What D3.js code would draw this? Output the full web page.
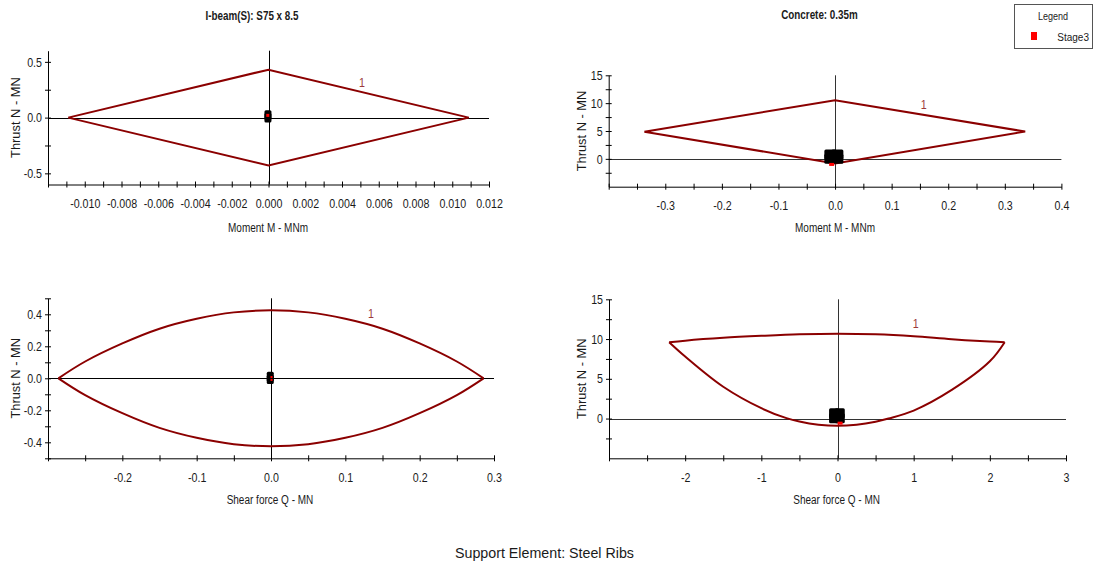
<!DOCTYPE html>
<html>
<head>
<meta charset="utf-8">
<script src="https://cdn.jsdelivr.net/npm/d3@7/dist/d3.min.js"></script>
<style>
  html, body { margin: 0; padding: 0; background: #fff; }
  svg { display: block; }
  text { font-family: "Liberation Sans", Arial, sans-serif; fill: #1a1a1a; }
</style>
</head>
<body>
<svg id="chart" width="1094" height="565"></svg>
<script>
// ---------------- DATA ----------------
// Panel 1: I-beam, Moment (MNm) vs Thrust (MN)
const steelMomentEnvelope = [[-0.0109, 0], [0, 0.43], [0.0109, 0], [0, -0.43], [-0.0109, 0]];
const steelMomentStage3 = [[-0.00003, 0.034], [-0.00003, 0.01], [-0.00003, -0.013]];
const steelMomentStage3Red = [[-0.00004, 0.02]];
const p1XTicks = [-0.012,-0.011,-0.010,-0.009,-0.008,-0.007,-0.006,-0.005,-0.004,-0.003,-0.002,-0.001,0,0.001,0.002,0.003,0.004,0.005,0.006,0.007,0.008,0.009,0.010,0.011,0.012];
const p1XLabels = [-0.010,-0.008,-0.006,-0.004,-0.002,0,0.002,0.004,0.006,0.008,0.010,0.012];
const p1YTicks = [-0.5,-0.25,0,0.25,0.5];
const p1YLabels = [-0.5,0,0.5];

// Panel 2: Concrete, Moment vs Thrust
const concMomentEnvelope = [[-0.337, 4.88], [0, 10.5], [0.336, 4.9], [0, -0.83], [-0.337, 4.88]];
const concMomentStage3 = [[-0.0083, 0.76], [0.0041, 0.76], [-0.0083, 0.04], [0.0041, 0.04], [-0.002, 0.4]];
const concMomentStage3Red = [[-0.006, -1.0]];
const p2XTicks = [-0.4,-0.35,-0.3,-0.25,-0.2,-0.15,-0.1,-0.05,0,0.05,0.1,0.15,0.2,0.25,0.3,0.35,0.4];
const p2XLabels = [-0.3,-0.2,-0.1,0,0.1,0.2,0.3,0.4];
const p2YTicks = [-2.5,0,2.5,5,7.5,10,12.5,15];
const p2YLabels = [0,5,10,15];

// Panel 3: I-beam, Shear vs Thrust
const steelShearTop = [[-0.286,0],[-0.25,0.105],[-0.2,0.218],[-0.15,0.31],[-0.1,0.372],[-0.05,0.412],[0,0.425],[0.05,0.412],[0.1,0.372],[0.15,0.31],[0.2,0.218],[0.25,0.105],[0.286,0]];
const steelShearBottom = [[-0.286,0],[-0.25,-0.105],[-0.2,-0.218],[-0.15,-0.31],[-0.1,-0.372],[-0.05,-0.412],[0,-0.425],[0.05,-0.412],[0.1,-0.372],[0.15,-0.31],[0.2,-0.218],[0.25,-0.105],[0.286,0]];
const steelShearStage3 = [[-0.001,0.019],[-0.001,0.0],[-0.001,-0.014]];
const steelShearStage3Red = [[0.0007,0.008],[0.0007,-0.01]];
const p3XTicks = [-0.3,-0.25,-0.2,-0.15,-0.1,-0.05,0,0.05,0.1,0.15,0.2,0.25,0.3];
const p3XLabels = [-0.2,-0.1,0,0.1,0.2,0.3];
const p3YTicks = [-0.5,-0.4,-0.3,-0.2,-0.1,0,0.1,0.2,0.3,0.4,0.5];
const p3YLabels = [-0.4,-0.2,0,0.2,0.4];

// Panel 4: Concrete, Shear vs Thrust
const concShearTop = [[-2.21,9.6],[-2,9.8],[-1.5,10.15],[-1,10.4],[-0.5,10.6],[0,10.68],[0.5,10.6],[1,10.35],[1.5,9.97],[2,9.68],[2.195,9.6]];
const concShearBottom = [[-2.21,9.6],[-2,7.8],[-1.5,4.0],[-1,1.3],[-0.67,0.05],[-0.5,-0.38],[-0.25,-0.78],[0,-0.92],[0.25,-0.78],[0.5,-0.4],[0.67,0],[1,1.0],[1.5,3.6],[2,7.2],[2.195,9.6]];
const concShearStage3 = [[-0.045,0.68],[0.03,0.68],[-0.045,0.05],[0.03,0.05]];
const concShearStage3Red = [[0.034,-0.58]];
const p4XTicks = [-3,-2.5,-2,-1.5,-1,-0.5,0,0.5,1,1.5,2,2.5,3];
const p4XLabels = [-2,-1,0,1,2,3];
const p4YTicks = [-2.5,0,2.5,5,7.5,10,12.5,15];
const p4YLabels = [0,5,10,15];

const titles = ["I-beam(S): S75 x 8.5", "Concrete: 0.35m"];
const xTitles = ["Moment M - MNm", "Shear force Q - MN"];
const yTitle = "Thrust N - MN";
const curveLabel = "1";
const legendTitle = "Legend";
const legendSeries = ["Stage3"];
const footer = "Support Element: Steel Ribs";

// ---------------- RENDER ----------------
const svg = d3.select("#chart");
const loc = d3.formatLocale({decimal: ".", thousands: ",", grouping: [3], currency: ["", ""], minus: "-"});
const ENV = "#8b0000";
const LBL = "#9c3a3a";

const panels = [
  { x0: 48, x1: 489, yTop: 50.7, yBot: 184.5, xDom: [-0.012, 0.012], yDom: [-0.6, 0.6],
    xTicks: p1XTicks, xLabels: p1XLabels, yTicks: p1YTicks, yLabels: p1YLabels,
    xFmt: loc.format(".3f"), yFmt: loc.format(".1f"), zc: "#000",
    paths: [steelMomentEnvelope], curve: d3.curveLinear,
    black: steelMomentStage3, red: steelMomentStage3Red, bs: [7, 7], rs: [3, 3],
    title: titles[0], titlePos: [252, 16], xTitle: xTitles[0], xTitlePos: [268, 228], yTitleX: 15.5,
    lblPos: [362, 82] },
  { x0: 608.7, x1: 1061.4, yTop: 75.3, yBot: 186.7, xDom: [-0.4, 0.4], yDom: [-5, 15],
    xTicks: p2XTicks, xLabels: p2XLabels, yTicks: p2YTicks, yLabels: p2YLabels,
    xFmt: loc.format(".1f"), yFmt: loc.format("d"), zc: "#333",
    paths: [concMomentEnvelope], curve: d3.curveLinear,
    black: concMomentStage3, red: concMomentStage3Red, bs: [12, 10], rs: [5, 3],
    title: titles[1], titlePos: [819.5, 15], xTitle: xTitles[0], xTitlePos: [835, 228], yTitleX: 582,
    lblPos: [923.8, 104] },
  { x0: 48, x1: 494, yTop: 298.3, yBot: 458.3, xDom: [-0.3, 0.3], yDom: [-0.5, 0.5],
    xTicks: p3XTicks, xLabels: p3XLabels, yTicks: p3YTicks, yLabels: p3YLabels,
    xFmt: loc.format(".1f"), yFmt: loc.format(".1f"), zc: "#000",
    paths: [steelShearTop, steelShearBottom], curve: d3.curveCatmullRom,
    black: steelShearStage3, red: steelShearStage3Red, bs: [7, 7], rs: [2, 2],
    title: null, xTitle: xTitles[1], xTitlePos: [270, 500], yTitleX: 15.5,
    lblPos: [371, 313.3] },
  { x0: 609, x1: 1066, yTop: 299.3, yBot: 458.3, xDom: [-3, 3], yDom: [-5, 15],
    xTicks: p4XTicks, xLabels: p4XLabels, yTicks: p4YTicks, yLabels: p4YLabels,
    xFmt: loc.format("d"), yFmt: loc.format("d"), zc: "#333",
    paths: [concShearTop, concShearBottom], curve: d3.curveCatmullRom,
    black: concShearStage3, red: concShearStage3Red, bs: [10, 10], rs: [5, 3],
    title: null, xTitle: xTitles[1], xTitlePos: [836.6, 500], yTitleX: 582,
    lblPos: [915.7, 323.3] }
];

function has(arr, v) { return arr.some(a => Math.abs(a - v) < 1e-9); }

panels.forEach(p => {
  const x = d3.scaleLinear().domain(p.xDom).range([p.x0, p.x1]);
  const y = d3.scaleLinear().domain(p.yDom).range([p.yBot, p.yTop]);
  const g = svg.append("g");

  // zero lines
  g.append("line").attr("x1", p.x0).attr("x2", p.x1).attr("y1", Math.round(y(0)) + 0.5).attr("y2", Math.round(y(0)) + 0.5)
    .attr("stroke", p.zc).attr("stroke-width", 1);
  g.append("line").attr("x1", Math.round(x(0)) + 0.5).attr("x2", Math.round(x(0)) + 0.5).attr("y1", p.yTop).attr("y2", p.yBot)
    .attr("stroke", p.zc).attr("stroke-width", 1);

  // envelope
  const line = d3.line().x(d => x(d[0])).y(d => y(d[1])).curve(p.curve);
  p.paths.forEach(pts => {
    g.append("path").attr("d", line(pts)).attr("fill", "none")
      .attr("stroke", ENV).attr("stroke-width", 2).attr("stroke-linejoin", "miter");
  });

  // stage3 points
  g.selectAll(null).data(p.black).enter().append("rect")
    .attr("x", d => x(d[0]) - p.bs[0] / 2).attr("y", d => y(d[1]) - p.bs[1] / 2)
    .attr("width", p.bs[0]).attr("height", p.bs[1]).attr("rx", 1.5).attr("fill", "#000");
  g.selectAll(null).data(p.red).enter().append("rect")
    .attr("x", d => x(d[0]) - p.rs[0] / 2).attr("y", d => y(d[1]) - p.rs[1] / 2)
    .attr("width", p.rs[0]).attr("height", p.rs[1]).attr("fill", "#ff0000");

  // axes
  const xAxis = d3.axisBottom(x).tickValues(p.xTicks)
    .tickFormat(d => has(p.xLabels, d) ? p.xFmt(d) : "")
    .tickSize(3).tickPadding(11).tickSizeOuter(0);
  const gx = svg.append("g").attr("transform", `translate(0,${p.yBot})`).call(xAxis);
  gx.selectAll(".tick line").attr("y1", -3).attr("y2", 3);
  const yAxis = d3.axisLeft(y).tickValues(p.yTicks)
    .tickFormat(d => has(p.yLabels, d) ? p.yFmt(d) : "")
    .tickSize(3).tickPadding(3).tickSizeOuter(0);
  const gy = svg.append("g").attr("transform", `translate(${p.x0},0)`).call(yAxis);
  gy.selectAll(".tick line").attr("x1", -3).attr("x2", 3);
  [gx, gy].forEach(a => {
    a.attr("font-family", null).attr("font-size", 13);
    a.select(".domain").attr("stroke", "#000");
    a.selectAll(".tick line").attr("stroke", "#000");
    a.selectAll(".tick text").attr("fill", "#1a1a1a").attr("data-sq", 0.82);
  });

  // titles
  if (p.title) {
    svg.append("text").attr("x", p.titlePos[0]).attr("y", p.titlePos[1]).attr("dy", "0.35em")
      .attr("text-anchor", "middle").attr("font-size", 12).attr("font-weight", "bold")
      .attr("data-sq", 0.82).text(p.title);
  }
  svg.append("text").attr("x", p.xTitlePos[0]).attr("y", p.xTitlePos[1]).attr("dy", "0.35em")
    .attr("text-anchor", "middle").attr("font-size", 12.5).attr("fill", "#2a2a2a")
    .attr("data-sq", 0.8).text(p.xTitle);
  svg.append("text").attr("transform", `translate(${p.yTitleX},${(p.yTop + p.yBot) / 2}) rotate(-90)`)
    .attr("dy", "0.35em").attr("text-anchor", "middle").attr("font-size", 12).attr("fill", "#2a2a2a")
    .attr("data-sq", 1.07).text(yTitle);

  // curve label
  svg.append("text").attr("x", p.lblPos[0]).attr("y", p.lblPos[1]).attr("dy", "0.35em")
    .attr("text-anchor", "middle").attr("font-size", 13).style("fill", LBL).attr("data-sq", 0.82).text(curveLabel);
});

// legend
svg.append("rect").attr("x", 1014.5).attr("y", 4.5).attr("width", 78).attr("height", 44)
  .attr("fill", "#fff").attr("stroke", "#555").attr("stroke-width", 1);
svg.append("text").attr("x", 1053).attr("y", 16).attr("dy", "0.35em").attr("text-anchor", "middle")
  .attr("font-size", 11).attr("data-sq", 0.82).text(legendTitle);
legendSeries.forEach((s, i) => {
  svg.append("rect").attr("x", 1031).attr("y", 32 + i * 16).attr("width", 6).attr("height", 8).attr("fill", "#ff0000");
  svg.append("text").attr("x", 1089).attr("y", 37 + i * 16).attr("dy", "0.35em").attr("text-anchor", "end")
    .attr("font-size", 10).text(s);
});

// footer
svg.append("text").attr("x", 544.5).attr("y", 553).attr("dy", "0.35em").attr("text-anchor", "middle")
  .attr("font-size", 15).attr("fill", "#2a2a2a").attr("data-sq", 0.95).text(footer);

// condense text horizontally (narrow face emulation)
svg.selectAll("text").each(function() {
  const sq = +this.getAttribute("data-sq");
  if (!sq) return;
  const w = this.getComputedTextLength();
  if (w > 0) {
    this.setAttribute("textLength", (w * sq).toFixed(2));
    this.setAttribute("lengthAdjust", "spacingAndGlyphs");
  }
});
</script>
</body>
</html>
